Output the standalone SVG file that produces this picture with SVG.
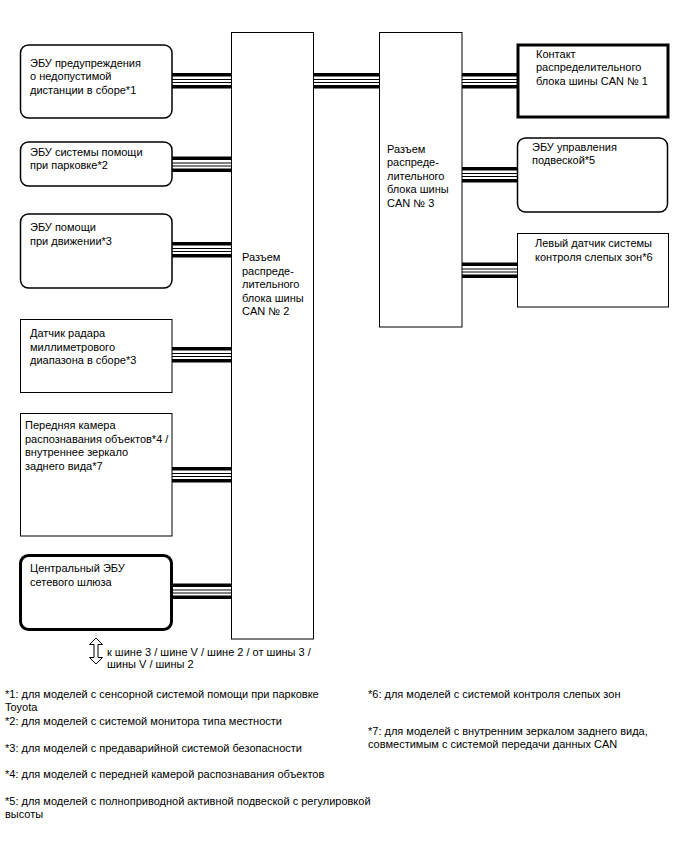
<svg xmlns="http://www.w3.org/2000/svg" width="688" height="852" viewBox="0 0 688 852">
<style>
text{font-family:"Liberation Sans",Arial,sans-serif;font-size:11px;fill:#000}
.box{fill:#fff;stroke:#000;stroke-width:1}
.rbox{fill:#fff;stroke:#000;stroke-width:1.5}
.heavy{fill:#fff;stroke:#000;stroke-width:3}
.tk{stroke:#000;stroke-width:3.5}
.tn{stroke:#000;stroke-width:1}
</style>
<rect width="688" height="852" fill="#fff"/>
<g id="connectors">
  <g id="c1"><line class="tk" x1="172" y1="74.8" x2="232" y2="74.8"/><line class="tn" x1="172" y1="79.5" x2="232" y2="79.5"/><line class="tn" x1="172" y1="82.5" x2="232" y2="82.5"/><line class="tk" x1="172" y1="86.8" x2="232" y2="86.8"/></g>
  <g id="c2"><line class="tk" x1="172" y1="158.3" x2="232" y2="158.3"/><line class="tn" x1="172" y1="163" x2="232" y2="163"/><line class="tn" x1="172" y1="166" x2="232" y2="166"/><line class="tk" x1="172" y1="170.3" x2="232" y2="170.3"/></g>
  <g id="c3"><line class="tk" x1="172" y1="243.8" x2="232" y2="243.8"/><line class="tn" x1="172" y1="248.5" x2="232" y2="248.5"/><line class="tn" x1="172" y1="251.5" x2="232" y2="251.5"/><line class="tk" x1="172" y1="255.8" x2="232" y2="255.8"/></g>
  <g id="c4"><line class="tk" x1="172" y1="348.8" x2="232" y2="348.8"/><line class="tn" x1="172" y1="353.5" x2="232" y2="353.5"/><line class="tn" x1="172" y1="356.5" x2="232" y2="356.5"/><line class="tk" x1="172" y1="360.8" x2="232" y2="360.8"/></g>
  <g id="c5"><line class="tk" x1="172" y1="468.8" x2="232" y2="468.8"/><line class="tn" x1="172" y1="473.5" x2="232" y2="473.5"/><line class="tn" x1="172" y1="476.5" x2="232" y2="476.5"/><line class="tk" x1="172" y1="480.8" x2="232" y2="480.8"/></g>
  <g id="c6"><line class="tk" x1="172" y1="585.3" x2="232" y2="585.3"/><line class="tn" x1="172" y1="590" x2="232" y2="590"/><line class="tn" x1="172" y1="593" x2="232" y2="593"/><line class="tk" x1="172" y1="597.3" x2="232" y2="597.3"/></g>
  <g id="c7"><line class="tk" x1="313" y1="74.8" x2="379" y2="74.8"/><line class="tn" x1="313" y1="79.5" x2="379" y2="79.5"/><line class="tn" x1="313" y1="82.5" x2="379" y2="82.5"/><line class="tk" x1="313" y1="86.8" x2="379" y2="86.8"/></g>
  <g id="c8"><line class="tk" x1="462" y1="74.8" x2="517" y2="74.8"/><line class="tn" x1="462" y1="79.5" x2="517" y2="79.5"/><line class="tn" x1="462" y1="82.5" x2="517" y2="82.5"/><line class="tk" x1="462" y1="86.8" x2="517" y2="86.8"/></g>
  <g id="c9"><line class="tk" x1="462" y1="168.8" x2="517" y2="168.8"/><line class="tn" x1="462" y1="173.5" x2="517" y2="173.5"/><line class="tn" x1="462" y1="176.5" x2="517" y2="176.5"/><line class="tk" x1="462" y1="180.8" x2="517" y2="180.8"/></g>
  <g id="c10"><line class="tk" x1="462" y1="264.3" x2="517" y2="264.3"/><line class="tn" x1="462" y1="269" x2="517" y2="269"/><line class="tn" x1="462" y1="272" x2="517" y2="272"/><line class="tk" x1="462" y1="276.3" x2="517" y2="276.3"/></g>
</g>
<g id="can2">
  <rect class="box" x="231.5" y="32.5" width="82" height="606.5"/>
  <text x="242" y="261">Разъем</text>
  <text x="242" y="274.5">распреде-</text>
  <text x="242" y="288">лительного</text>
  <text x="242" y="301.5">блока шины</text>
  <text x="242" y="315">CAN № 2</text>
</g>
<g id="can3">
  <rect class="box" x="379.5" y="32.5" width="82.5" height="294.5"/>
  <text x="387" y="152.5">Разъем</text>
  <text x="387" y="166">распреде-</text>
  <text x="387" y="179.5">лительного</text>
  <text x="387" y="193">блока шины</text>
  <text x="387" y="206.5">CAN № 3</text>
</g>
<g id="n1">
  <rect class="rbox" x="20.5" y="45" width="151.5" height="73" rx="8"/>
  <text x="30" y="66.5">ЭБУ предупреждения</text>
  <text x="30" y="80">о недопустимой</text>
  <text x="30" y="93.5">дистанции в сборе*1</text>
</g>
<g id="n2">
  <rect class="rbox" x="20.5" y="142" width="151.5" height="44" rx="8"/>
  <text x="30" y="155.5">ЭБУ системы помощи</text>
  <text x="30" y="169">при парковке*2</text>
</g>
<g id="n3">
  <rect class="rbox" x="20.5" y="214" width="151.5" height="74" rx="8"/>
  <text x="30" y="231">ЭБУ помощи</text>
  <text x="30" y="244.5">при движении*3</text>
</g>
<g id="n4">
  <rect class="box" x="20.5" y="319.5" width="151.5" height="73"/>
  <text x="30" y="337">Датчик радара</text>
  <text x="30" y="350.5">миллиметрового</text>
  <text x="30" y="364">диапазона в сборе*3</text>
</g>
<g id="n5">
  <rect class="box" x="20.5" y="413.5" width="151.5" height="122.5"/>
  <text x="25" y="429">Передняя камера</text>
  <text x="25" y="442.5">распознавания объектов*4 /</text>
  <text x="25" y="456">внутреннее зеркало</text>
  <text x="25" y="469.5">заднего вида*7</text>
</g>
<g id="n6">
  <rect class="heavy" x="20.5" y="555.5" width="151" height="74" rx="8"/>
  <text x="30" y="572">Центральный ЭБУ</text>
  <text x="30" y="585.5">сетевого шлюза</text>
</g>
<g id="n7">
  <rect class="heavy" x="518" y="45" width="150" height="72"/>
  <text x="536" y="57.5">Контакт</text>
  <text x="536" y="71">распределительного</text>
  <text x="536" y="84.5">блока шины CAN № 1</text>
</g>
<g id="n8">
  <rect class="rbox" x="517.5" y="138" width="150" height="74" rx="8"/>
  <text x="532" y="150.5">ЭБУ управления</text>
  <text x="532" y="164">подвеской*5</text>
</g>
<g id="n9">
  <rect class="box" x="517.5" y="233.5" width="151" height="73.5"/>
  <text x="535" y="247">Левый датчик системы</text>
  <text x="535" y="260.5">контроля слепых зон*6</text>
</g>
<g id="legend">
  <polygon points="96,638 102.5,644.5 98,644.5 98,657.5 102.5,657.5 96,664 89.5,657.5 94,657.5 94,644.5 89.5,644.5" fill="#fff" stroke="#000" stroke-width="1"/>
  <text x="107" y="655.5">к шине 3 / шине V / шине 2 / от шины 3 /</text>
  <text x="107" y="668">шины V / шины 2</text>
</g>
<g id="footnotes">
  <text x="5" y="698">*1: для моделей с сенсорной системой помощи при парковке</text>
  <text x="5" y="711">Toyota</text>
  <text x="5" y="725">*2: для моделей с системой монитора типа местности</text>
  <text x="5" y="752">*3: для моделей с предаварийной системой безопасности</text>
  <text x="5" y="778">*4: для моделей с передней камерой распознавания объектов</text>
  <text x="5" y="805">*5: для моделей с полноприводной активной подвеской с регулировкой</text>
  <text x="5" y="818">высоты</text>
  <text x="368" y="698">*6: для моделей с системой контроля слепых зон</text>
  <text x="368" y="734.5">*7: для моделей с внутренним зеркалом заднего вида,</text>
  <text x="368" y="747.5">совместимым с системой передачи данных CAN</text>
</g>
</svg>
